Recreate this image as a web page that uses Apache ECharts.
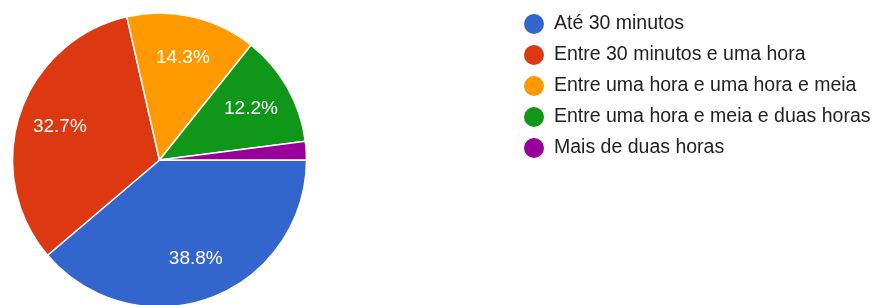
<!DOCTYPE html>
<html>
<head>
<meta charset="utf-8">
<script src="https://cdn.jsdelivr.net/npm/echarts@6/dist/echarts.min.js"></script>
<style>
  html, body { margin: 0; padding: 0; background: #fff; }
  #chart { width: 878px; height: 305px; }
</style>
</head>
<body>
<div id="chart"></div>
<script>
// answers (counts out of 49 responses)
const categories = [
  'Até 30 minutos',
  'Entre 30 minutos e uma hora',
  'Entre uma hora e uma hora e meia',
  'Entre uma hora e meia e duas horas',
  'Mais de duas horas'
];
const counts = [19, 16, 7, 6, 1];
const colors = ['#3366cc', '#dc3912', '#ff9900', '#109618', '#990099'];

const pieData = categories.map((name, i) => ({ name: name, value: counts[i] }));

const chart = echarts.init(document.getElementById('chart'));

chart.setOption({
  animation: false,
  color: colors,
  textStyle: { fontFamily: 'Liberation Sans, Arial, sans-serif' },
  legend: {
    orient: 'vertical',
    left: 517,
    top: 7,
    icon: 'circle',
    itemWidth: 22,
    itemHeight: 22,
    itemGap: 7,
    selectedMode: false,
    textStyle: { fontSize: 19.5, color: '#222', padding: [0, 0, 0, 4] }
  },
  series: [
    {
      // the slices
      type: 'pie',
      center: [159.5, 160],
      radius: [0, 147],
      startAngle: 0,
      clockwise: true,
      silent: true,
      data: pieData,
      itemStyle: { borderColor: '#fff', borderWidth: 1.5 },
      label: { show: false },
      labelLine: { show: false }
    },
    {
      // transparent ring only used to place the percent labels
      type: 'pie',
      center: [159.5, 160],
      radius: [62, 142],
      startAngle: 0,
      clockwise: true,
      silent: true,
      percentPrecision: 1,
      data: pieData,
      itemStyle: { color: 'rgba(0,0,0,0)' },
      label: {
        show: true,
        position: 'inside',
        color: '#fff',
        fontSize: 19,
        fontFamily: 'Liberation Sans, Arial, sans-serif',
        formatter: p => p.percent < 5 ? '' : p.percent.toFixed(1) + '%'
      },
      labelLine: { show: false }
    }
  ]
});
</script>
</body>
</html>
